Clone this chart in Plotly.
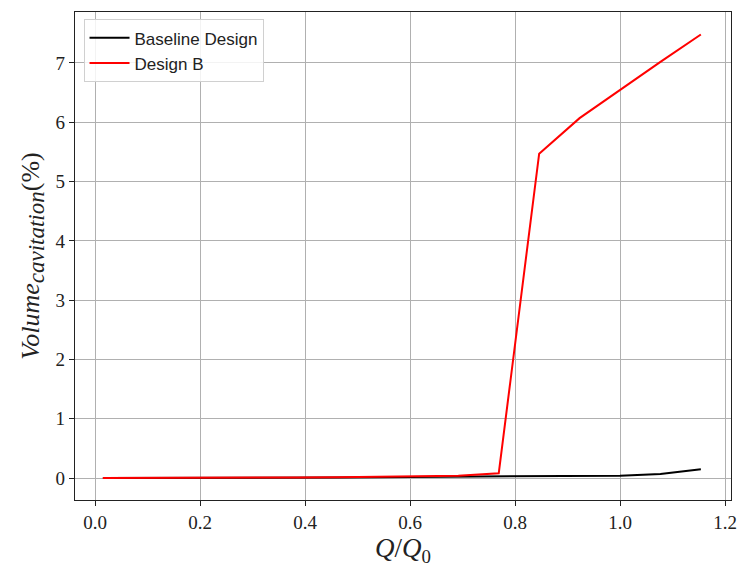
import plotly.graph_objects as go

q_ratio = [0.015, 0.077, 0.154, 0.231, 0.308, 0.385, 0.462, 0.538, 0.615, 0.692, 0.769, 0.846, 0.923, 1.0, 1.077, 1.154]
baseline = [0.0, 0.0, 0.0, 0.0, 0.0, 0.005, 0.01, 0.015, 0.02, 0.025, 0.03, 0.03, 0.03, 0.04, 0.07, 0.15]
design_b = [0.0, 0.0, 0.0, 0.0, 0.005, 0.01, 0.015, 0.02, 0.03, 0.04, 0.08, 5.47, 6.07, 6.55, 7.02, 7.48]

x_ticks = [0.0, 0.2, 0.4, 0.6, 0.8, 1.0, 1.2]
y_ticks = [0, 1, 2, 3, 4, 5, 6, 7]

fig = go.Figure()
fig.add_trace(go.Scatter(x=q_ratio, y=baseline, mode="lines", name="Baseline Design",
                         line=dict(color="black", width=2)))
fig.add_trace(go.Scatter(x=q_ratio, y=design_b, mode="lines", name="Design B",
                         line=dict(color="red", width=2)))

axis_common = dict(showgrid=True, gridcolor="#b0b0b0", gridwidth=1, zeroline=False,
                   showline=True, linecolor="#222", linewidth=1.3, mirror=True,
                   ticks="outside", ticklen=5, tickcolor="#222", automargin=False,
                   tickfont=dict(family="Liberation Serif", size=19, color="#222"))

fig.update_layout(
    width=739, height=569,
    margin=dict(l=75, r=8, t=12, b=69),
    plot_bgcolor="white", paper_bgcolor="white",
    xaxis=dict(range=[-0.0381, 1.2114], tickvals=x_ticks,
               ticktext=[f"{v:.1f}" for v in x_ticks],
               title=dict(text="<i>Q</i>/<i>Q</i><sub>0</sub>", standoff=4,
                          font=dict(family="Liberation Serif", size=27, color="#222")),
               **axis_common),
    yaxis=dict(range=[-0.37, 7.86], tickvals=y_ticks,
               title=dict(text="<i>Volume</i><sub><i><span style='font-size:23px'>cavitation</span></i></sub>(%)",
                          standoff=8,
                          font=dict(family="Liberation Serif", size=26, color="#222")),
               **axis_common),
    legend=dict(x=0.013, y=0.985, xanchor="left", yanchor="top", itemwidth=40,
                bgcolor="rgba(255,255,255,0.85)", bordercolor="#d0d0d0", borderwidth=1,
                font=dict(family="Liberation Sans", size=17, color="#222")),
)

fig.write_html("out.html")
